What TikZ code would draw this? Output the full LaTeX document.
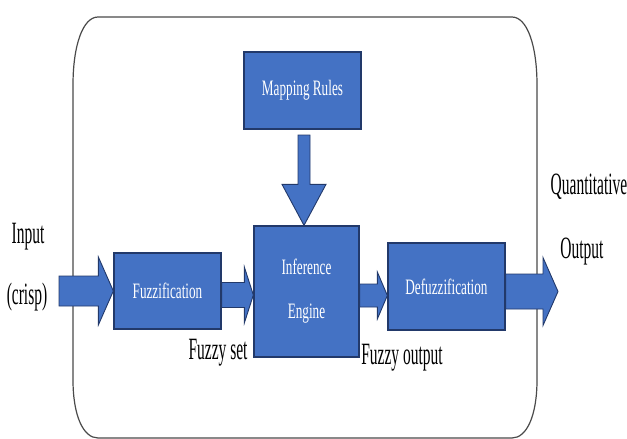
\documentclass[tikz,border=0pt]{standalone}
\usepackage{fontspec}
\setmainfont{Liberation Serif}
\newfontfamily\labelfont[FakeStretch=0.5]{Liberation Serif}
\newfontfamily\boxfont[FakeStretch=0.6]{Liberation Serif}
\usetikzlibrary{calc}
\definecolor{boxblue}{HTML}{4472C4}
\definecolor{boxedge}{HTML}{22396A}
\definecolor{frame}{HTML}{4A4A4A}
\tikzset{
  blockbox/.style={draw=boxedge, line width=1.3pt, fill=boxblue, text=white,
    inner sep=0pt, font=\boxfont\fontsize{22}{44}\selectfont, align=center},
  barrow/.style={draw=boxedge, line width=0.9pt, fill=boxblue, line join=miter},
  lbl/.style={inner sep=0pt, font=\labelfont\fontsize{31}{33}\selectfont, text=black},
}
% horizontal block arrow: #1 start, #2 tip, #3 shaft half, #4 head half, #5 head length
\newcommand\hblock[5]{%
  \draw[barrow] let \p1=#1, \p2=#2 in
    (\x1,\y1+#3pt) -- (\x2-#5pt,\y1+#3pt) -- (\x2-#5pt,\y1+#4pt) -- (\x2,\y1)
    -- (\x2-#5pt,\y1-#4pt) -- (\x2-#5pt,\y1-#3pt) -- (\x1,\y1-#3pt) -- cycle;}
\begin{document}
\begin{tikzpicture}[x=1pt,y=-1pt]
\useasboundingbox (0,0) rectangle (627,439);
% outer frame
\draw[frame, line width=1.2pt] (98,17) -- (512,17) .. controls (527,17) and (537,45) .. (537,85)
  -- (537,380) .. controls (537,415) and (527,438) .. (512,438) -- (98,438)
  .. controls (83,438) and (73,415) .. (73,380) -- (73,85)
  .. controls (73,45) and (83,17) .. (98,17) -- cycle;
% boxes
\node[blockbox, minimum width=117pt, minimum height=77pt] (map) at (302.5,90.5) {Mapping Rules};
\node[blockbox, minimum width=105pt, minimum height=131pt] (inf) at (306.5,291.5) {Inference\\Engine};
\node[blockbox, minimum width=107pt, minimum height=76pt] (fuz) at (167.5,291) {Fuzzification};
\node[blockbox, minimum width=117pt, minimum height=87pt] (def) at (446.5,286.5) {Defuzzification};
% free ends
\coordinate (inS) at (59,291);
\coordinate (outT) at (558,281);
\coordinate (mapS) at (304,135);
% arrows
\hblock{(inS)}{(fuz.west)}{15}{34}{15}
\hblock{($(fuz.east)+(0,4)$)}{(inf.west)}{12.5}{28}{9}
\hblock{($(inf.east)+(0,4)$)}{(def.west)}{11.5}{23.5}{10}
\hblock{($(def.east)+(0,5)$)}{(outT)}{17.5}{34}{15}
\draw[barrow] let \p1=(mapS), \p2=(inf.north) in
  (\x1-6pt,\y1) -- (\x1-6pt,\y2+41pt) -- (\x1-22pt,\y2+41pt) -- (\x1,\y2)
  -- (\x1+22pt,\y2+41pt) -- (\x1+6pt,\y2+41pt) -- (\x1+6pt,\y1) -- cycle;
% labels
\node[lbl] (lin) at (28,237) {Input};
\node[lbl] (lcr) at (27,297) {(crisp)};
\node[lbl] (lfs) at (218,353) {Fuzzy set};
\node[lbl] (lfo) at (402,358) {Fuzzy output};
\node[lbl] (lqu) at (589,187) {Quantitative};
\node[lbl] (lou) at (582,252) {Output};
\end{tikzpicture}
\end{document}
